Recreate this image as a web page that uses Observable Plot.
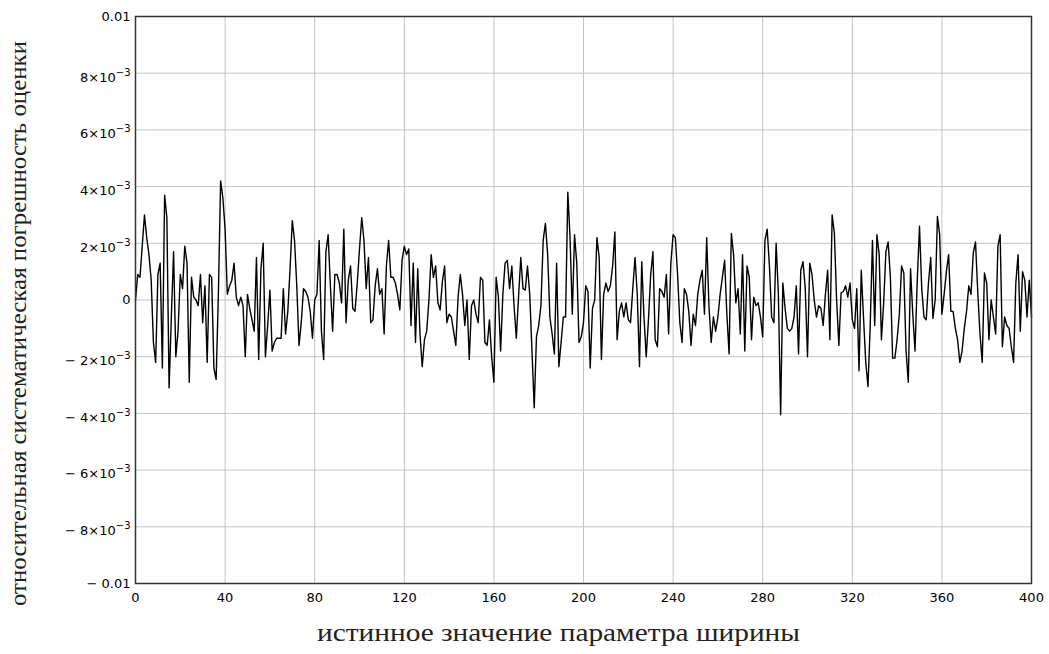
<!DOCTYPE html>
<html><head><meta charset="utf-8">
<script src="https://cdn.jsdelivr.net/npm/d3@7"></script>
<script src="https://cdn.jsdelivr.net/npm/@observablehq/plot@0.6"></script>
<style>html,body{margin:0;padding:0;background:#fff;}</style>
</head><body><div id="chart"></div>
<script>
// relative systematic error, in units of 1e-3, for true width parameter 0..400 (step 1)
const errorMilli = [
 0.0, 0.9, 0.8, 1.9, 3.0, 2.2, 1.6, 0.7, -1.5, -2.2,
 0.9, 1.3, -2.4, 3.7, 2.9, -3.1, -0.6, 1.7, -2.0, -1.1,
 0.9, 0.4, 1.9, 1.3, -2.9, 0.8, 0.1, 0.0, -0.2, 0.9,
 -0.8, 0.5, -2.2, 0.9, 0.8, -2.4, -2.8, 0.2, 4.2, 3.6,
 2.5, 0.2, 0.5, 0.7, 1.3, 0.1, -0.2, 0.1, -0.2, -2.0,
 0.2, -0.3, -0.7, -1.1, 1.5, -2.1, 1.1, 2.0, -2.0, -0.9,
 0.35, -1.8, -1.5, -1.35, -1.35, -1.35, 0.4, -1.2, -0.4, 1.1,
 2.8, 2.1, 0.5, -1.6, -0.8, 0.4, 0.3, 0.1, -0.4, -1.35,
 0.0, 0.2, 2.1, -1.1, -2.1, 1.7, 2.3, 0.5, -1.1, 0.9,
 0.9, 0.6, -0.1, 2.5, -0.8, 0.7, 1.2, -0.3, -0.4, 0.6,
 1.8, 2.9, 2.1, 0.4, 1.5, -0.8, -0.7, 0.5, 1.1, 0.2,
 0.4, -1.2, 1.2, 2.1, 0.8, 0.8, 0.6, 0.2, -0.35, 1.4,
 1.9, 1.6, 1.8, -0.9, 1.3, -1.5, 1.1, -1.2, -2.35, -1.4,
 -1.1, 0.0, 1.6, 0.8, 1.2, -0.1, -0.35, 0.65, 1.2, -0.8,
 -0.5, -0.6, -1.1, -1.6, 0.1, 0.9, 0.2, -0.9, 0.0, -2.1,
 -0.2, 0.0, -0.5, -0.8, 0.8, 0.7, -1.5, -1.6, -0.7, -2.0,
 -2.9, 0.8, 0.1, -1.8, 0.2, 1.3, 1.4, 0.4, 1.2, -0.2,
 -1.35, 0.1, 1.5, 0.4, 0.35, 1.2, 0.2, -1.8, -3.8, -1.3,
 -0.9, -0.2, 2.1, 2.7, 1.6, -0.6, -1.2, -1.9, 1.3, -2.35,
 -1.5, -0.6, -0.6, 3.8, 2.2, -0.5, 2.3, 1.3, -1.5, -1.3,
 -0.8, 0.5, 0.3, -2.4, -0.3, 0.0, 2.2, 1.5, -2.1, 0.2,
 0.6, 0.3, 0.5, 1.2, 2.4, -1.4, -0.4, -0.1, -0.6, -0.1,
 -0.7, -0.8, 0.4, 1.5, 0.2, -2.35, 1.35, -0.6, -2.0, -0.7,
 0.9, 1.7, -1.4, -1.65, 0.4, 0.3, 0.1, 0.9, -1.2, 1.3,
 2.3, 2.2, 0.9, -0.8, -1.5, 0.4, 0.2, -0.4, -1.6, -0.5,
 -0.9, 0.2, 0.7, 1.05, -0.5, 2.2, -0.2, -1.5, -0.6, -1.1,
 -0.6, 0.2, 0.8, 1.4, -0.5, -1.9, 2.35, 1.6, -0.1, 0.4,
 -1.2, 1.6, -1.8, 1.2, 0.8, -1.4, 0.1, -0.2, -0.1, -0.6,
 -1.3, 2.1, 2.5, 1.2, -0.6, -0.8, 2.0, 0.2, -4.05, 0.6,
 -0.3, -1.0, -1.1, -1.0, -0.6, 0.5, -1.9, 1.05, 1.35, 0.4,
 -2.0, 1.3, 0.9, 0.0, -0.6, -0.2, -0.3, -0.9, 0.2, 1.05,
 -1.4, 3.0, 2.35, 0.0, -1.6, 0.25, 0.3, 0.5, 0.1, 0.6,
 -0.7, -1.0, 0.4, -2.5, 1.05, -0.6, -2.2, -3.05, -0.9, 2.1,
 -0.9, 2.3, 1.6, -1.4, -0.1, 1.7, 2.05, 0.8, -2.05, -2.05,
 -1.4, -0.5, 1.2, 0.95, -1.8, -2.9, 1.1, -0.5, -1.8, 0.7,
 2.6, 0.4, -0.6, -0.7, 0.6, 1.5, -0.65, 0.0, 2.95, 2.3,
 -0.5, 0.2, 1.0, 1.6, -0.4, -0.4, -1.0, -1.4, -2.2, -1.8,
 -1.0, -0.4, 0.5, 0.2, 1.65, 2.05, 0.3, -1.2, -2.2, 0.95,
 0.6, -1.4, 0.0, -0.6, -1.2, 1.9, 2.3, -1.65, -0.6, -0.9,
 -1.0, -1.65, -2.2, 0.6, 1.6, -1.1, 1.0, 0.7, -0.6, 0.7,
 -0.6
];
const xStart = 0;
const xStep = 1;
const xTicks = [0, 40, 80, 120, 160, 200, 240, 280, 320, 360, 400];
const yTicks = [-0.01, -0.008, -0.006, -0.004, -0.002, 0, 0.002, 0.004, 0.006, 0.008, 0.01];
const yTickLabels = ["− 0.01", "− 8×10^−3", "− 6×10^−3", "− 4×10^−3", "− 2×10^−3", "0",
                     "2×10^−3", "4×10^−3", "6×10^−3", "8×10^−3", "0.01"];
const xTitle = "истинное значение параметра ширины";
const yTitle = "относительная систематическая погрешность оценки";

const data = errorMilli.map((v, i) => ({x: xStart + i * xStep, y: v * 1e-3}));
const yLabelOf = v => yTickLabels[yTicks.findIndex(t => Math.abs(t - v) < 1e-9)];

const chart = Plot.plot({
  width: 1049, height: 654,
  marginLeft: 135, marginRight: 18, marginTop: 16, marginBottom: 71,
  style: {background: "#fff", fontFamily: "DejaVu Sans", fontSize: "13px", color: "#000"},
  x: {domain: [0, 400]},
  y: {domain: [-0.01, 0.01]},
  marks: [
    Plot.gridX(xTicks, {stroke: "#c4c4c4", strokeOpacity: 1}),
    Plot.gridY(yTicks, {stroke: "#c4c4c4", strokeOpacity: 1}),
    Plot.axisX(xTicks, {tickSize: 0, tickPadding: 9, label: null, tickFormat: d => String(d)}),
    Plot.axisY(yTicks, {tickSize: 0, tickPadding: 5, label: null, tickFormat: yLabelOf}),
    Plot.lineY(data, {x: "x", y: "y", stroke: "#000", strokeWidth: 1.4}),
    Plot.frame({stroke: "#333", strokeWidth: 1.5}),
    Plot.text([xTitle], {frameAnchor: "bottom", dy: 57, dx: -25, fontSize: 26, fontFamily: "Liberation Serif", text: d => d, fill: "#222"}),
    Plot.text([yTitle], {frameAnchor: "left", rotate: -90, textAnchor: "start", dx: -117, dy: 306, fontSize: 24, fontFamily: "Liberation Serif", text: d => d, fill: "#222"})
  ]
});
document.getElementById("chart").appendChild(chart);

// superscript exponents in y tick labels
chart.querySelectorAll('g[aria-label="y-axis tick label"] text').forEach(t => {
  const s = t.textContent;
  if (!s.includes("^")) return;
  const [base, exp] = s.split("^");
  t.textContent = "";
  const a = document.createElementNS("http://www.w3.org/2000/svg", "tspan");
  a.textContent = base;
  const b = document.createElementNS("http://www.w3.org/2000/svg", "tspan");
  b.textContent = exp;
  b.setAttribute("dy", "-6");
  b.setAttribute("font-size", "10");
  t.appendChild(a); t.appendChild(b);
  t.setAttribute("dy", "0.32em");
});
// stretch axis titles to the reference's lengths
const titles = chart.querySelectorAll('g[aria-label="text"] text');
if (titles[0]) { titles[0].setAttribute("textLength", 483); titles[0].setAttribute("lengthAdjust", "spacingAndGlyphs"); }
if (titles[1]) { titles[1].setAttribute("textLength", 565); titles[1].setAttribute("lengthAdjust", "spacingAndGlyphs"); }
</script>
</body></html>
